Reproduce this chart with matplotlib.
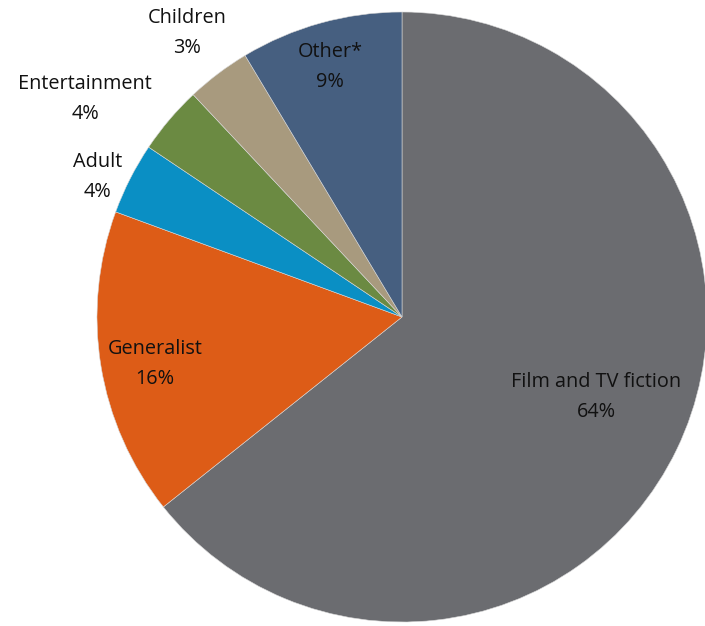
import matplotlib
matplotlib.use('Agg')
import matplotlib.pyplot as plt

# genre shares (percent), clockwise from 12 o'clock
genres = ['Film and TV fiction', 'Generalist', 'Adult', 'Entertainment', 'Children', 'Other*']
shares = [64.3, 16.3, 3.8, 3.6, 3.4, 8.6]
colors = ['#6b6c70', '#dd5c17', '#0a8fc4', '#6b8a42', '#a89a7e', '#465f80']

# label centres in pixels (x from left, y from top)
label_px = [(596, 397), (155, 364), (98, 177), (85, 99), (187, 33), (330, 67)]

W, H = 705, 626
fig = plt.figure(figsize=(W / 100, H / 100), dpi=100)
ax = fig.add_axes([0, 0, 1, 1])

ax.pie(shares, colors=colors, startangle=90, counterclock=False,
       center=(402, H - 317), radius=305, frame=True,
       wedgeprops=dict(edgecolor='#d8d8d8', linewidth=0.4))

# pie() resets the limits, so fix them afterwards
ax.set_xlim(0, W)
ax.set_ylim(0, H)
ax.set_aspect('equal')
ax.axis('off')

for name, val, (x, y) in zip(genres, shares, label_px):
    ax.text(x, H - y, '%s\n%d%%' % (name, round(val)), ha='center', va='center',
            fontsize=14.3, family=['Open Sans', 'DejaVu Sans'], color='#111111',
            linespacing=1.7)

fig.savefig('out.png', dpi=100)
